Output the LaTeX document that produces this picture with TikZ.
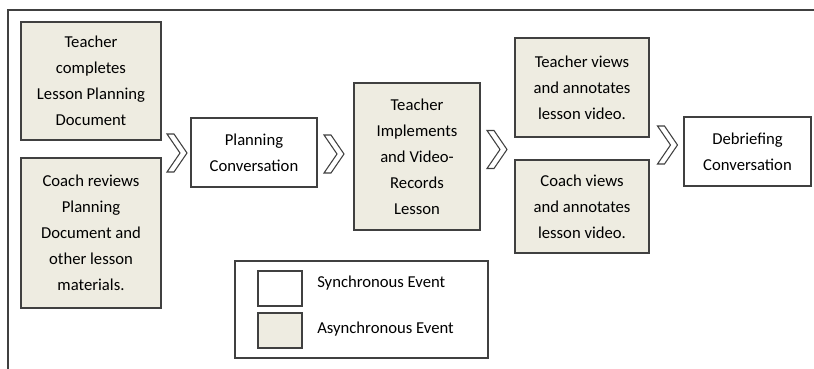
\documentclass[tikz,border=0pt]{standalone}
\usepackage{fontspec}
\setmainfont{Carlito}
\usetikzlibrary{positioning,calc}
\definecolor{asyncfill}{HTML}{EEECE1}
\definecolor{edge}{HTML}{404040}
\tikzset{
  sync/.style={rectangle, draw=edge, line width=1.1pt, fill=white, align=center, inner sep=0pt,
    font=\fontsize{12.5}{19.5}\selectfont},
  async/.style={sync, fill=asyncfill},
  swatch/.style={rectangle, draw=edge, line width=1.1pt, minimum width=33pt, minimum height=26pt, inner sep=0pt},
  keytext/.style={anchor=west, inner sep=0pt, font=\fontsize{12.5}{15}\selectfont},
  chev/.style={draw=edge, line width=0.8pt, fill=white, line join=miter},
  frame/.style={draw=edge, line width=1.5pt},
}
\newcommand{\chevron}[1]{%
  \draw[chev] #1 ++(-10,-19) -- ++(7,0) -- ++(13,19) -- ++(-13,19) -- ++(-7,0) -- ++(13,-19) -- cycle;}

\begin{document}
\begin{tikzpicture}[x=0.75pt, y=-0.75pt]
  \useasboundingbox (0,0) rectangle (814,368);
  \draw[frame] (8,370) |- (816,10);
  % first stage
  \node[async, minimum width=105pt, minimum height=88.5pt] (tplan) at (91,81)
    {Teacher\\ completes\\ Lesson Planning\\ Document};
  \node[async, minimum width=105pt, minimum height=112.5pt] (creview) at (91,233)
    {Coach reviews\\ Planning\\ Document and\\ other lesson\\ materials.};
  \node[sync, minimum width=94.5pt, minimum height=51.75pt] (planconv) at (254,152.5)
    {Planning\\ Conversation};
  \node[async, minimum width=94.5pt, minimum height=110.25pt] (teach) at (417,156.5)
    {Teacher\\ Implements\\ and Video-\\ Records\\ Lesson};
  \node[async, minimum width=100.5pt, minimum height=74.25pt] (tview) at (582,87.5)
    {Teacher views\\ and annotates\\ lesson video.};
  \node[async, minimum width=100.5pt, minimum height=69.75pt] (cview) at (582,206.5)
    {Coach views\\ and annotates\\ lesson video.};
  \node[sync, minimum width=95.25pt, minimum height=51.75pt] (debrief) at (747.5,151.5)
    {Debriefing\\ Conversation};
  % chevrons between stages
  \chevron{(177,153)}
  \chevron{(334,154)}
  \chevron{(497,149.5)}
  \chevron{(667.5,145)}
  % legend
  \node[sync, minimum width=189.75pt, minimum height=72.75pt] (legend) at (361.5,309.5) {};
  \node[swatch, fill=white] (keysync) at (280,288.5) {};
  \node[swatch, fill=asyncfill] (keyasync) at (280,330.5) {};
  \node[keytext] (synclab) at (317,283) {Synchronous Event};
  \node[keytext] (asynclab) at (317,329) {Asynchronous Event};
\end{tikzpicture}
\end{document}
